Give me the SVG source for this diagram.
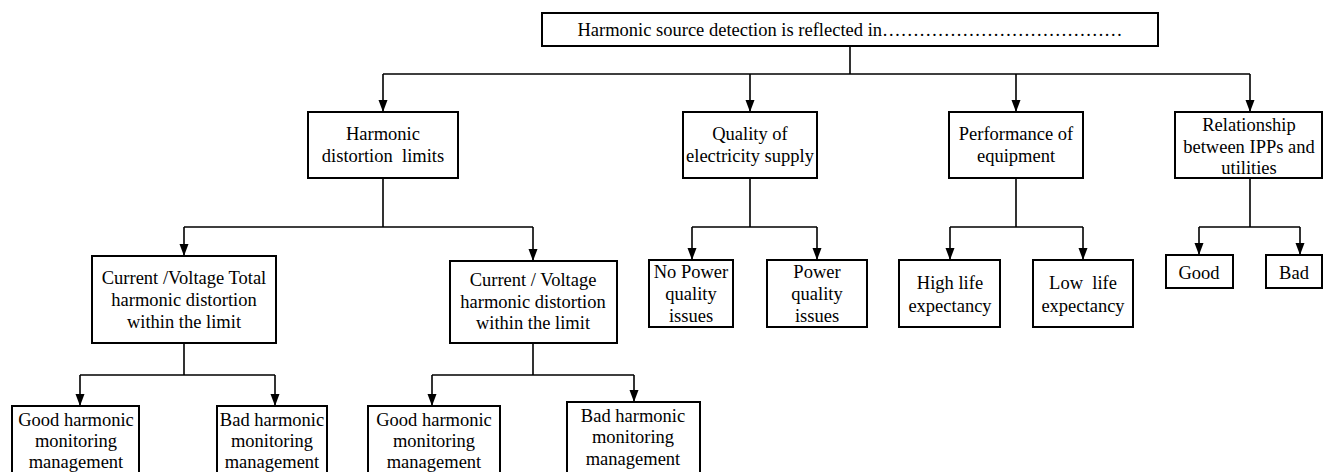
<svg xmlns="http://www.w3.org/2000/svg" width="1324" height="472" viewBox="0 0 1324 472">
  <defs>
    <marker id="arrow" markerUnits="userSpaceOnUse" markerWidth="13" markerHeight="10" refX="12" refY="4.5" orient="auto">
      <path d="M0,0 L12,4.5 L0,9 z" fill="#000"/>
    </marker>
    <style>
      .box { fill: #fff; stroke: #000; stroke-width: 2; }
      .lbl { font-family: "Liberation Serif", "Times New Roman", serif; font-size: 18.5px; fill: #000; text-anchor: middle; }
      .wire { fill: none; stroke: #000; stroke-width: 1.6; }
      .arr { fill: none; stroke: #000; stroke-width: 1.6; marker-end: url(#arrow); }
    </style>
  </defs>
  <rect width="1324" height="472" fill="#fff"/>

  <!-- connectors -->
  <g id="connectors">
    <path class="wire" d="M850,46 V74 M383,74 H1250"/>
    <path class="arr" d="M383,74 V112"/>
    <path class="arr" d="M750,74 V112"/>
    <path class="arr" d="M1016,74 V112"/>
    <path class="arr" d="M1250,74 V112"/>

    <path class="wire" d="M383,178 V227 M184,227 H533"/>
    <path class="arr" d="M184,227 V256"/>
    <path class="arr" d="M533,227 V261"/>

    <path class="wire" d="M750,178 V227 M692,227 H817"/>
    <path class="arr" d="M692,227 V260"/>
    <path class="arr" d="M817,227 V260"/>

    <path class="wire" d="M1016,178 V227 M950,227 H1083"/>
    <path class="arr" d="M950,227 V260"/>
    <path class="arr" d="M1083,227 V260"/>

    <path class="wire" d="M1250,178 V227 M1199,227 H1300"/>
    <path class="arr" d="M1199,227 V255"/>
    <path class="arr" d="M1300,227 V255"/>

    <path class="wire" d="M184,343 V375 M80,375 H275"/>
    <path class="arr" d="M80,375 V406"/>
    <path class="arr" d="M275,375 V406"/>

    <path class="wire" d="M533,343 V375 M432,375 H634"/>
    <path class="arr" d="M432,375 V406"/>
    <path class="arr" d="M634,375 V402"/>
  </g>

  <!-- root -->
  <g id="root">
    <rect class="box" x="542" y="13" width="616" height="33"/>
    <text class="lbl" x="850" y="36">Harmonic source detection is reflected in…………………………………</text>
  </g>

  <!-- first level -->
  <g id="distortion-limits">
    <rect class="box" x="308" y="112" width="150" height="66"/>
    <text class="lbl" x="383" y="140">Harmonic</text>
    <text class="lbl" x="383" y="162" xml:space="preserve">distortion  limits</text>
  </g>
  <g id="supply-quality">
    <rect class="box" x="683" y="112" width="134" height="66"/>
    <text class="lbl" x="750" y="140">Quality of</text>
    <text class="lbl" x="750" y="162">electricity supply</text>
  </g>
  <g id="equipment-performance">
    <rect class="box" x="949" y="112" width="134" height="66"/>
    <text class="lbl" x="1016" y="140">Performance of</text>
    <text class="lbl" x="1016" y="162">equipment</text>
  </g>
  <g id="ipp-relationship">
    <rect class="box" x="1175" y="112" width="147" height="66"/>
    <text class="lbl" x="1249" y="131">Relationship</text>
    <text class="lbl" x="1249" y="153">between IPPs and</text>
    <text class="lbl" x="1249" y="174">utilities</text>
  </g>

  <!-- second level -->
  <g id="thd-within-limit">
    <rect class="box" x="92" y="256" width="184" height="87"/>
    <text class="lbl" x="184" y="284">Current /Voltage Total</text>
    <text class="lbl" x="184" y="306">harmonic distortion</text>
    <text class="lbl" x="184" y="328">within the limit</text>
  </g>
  <g id="hd-within-limit">
    <rect class="box" x="450" y="261" width="167" height="82"/>
    <text class="lbl" x="533" y="286">Current / Voltage</text>
    <text class="lbl" x="533" y="308">harmonic distortion</text>
    <text class="lbl" x="533" y="329">within the limit</text>
  </g>
  <g id="no-pq-issues">
    <rect class="box" x="649" y="260" width="84" height="67"/>
    <text class="lbl" x="691" y="278">No Power</text>
    <text class="lbl" x="691" y="300">quality</text>
    <text class="lbl" x="691" y="322">issues</text>
  </g>
  <g id="pq-issues">
    <rect class="box" x="767" y="260" width="100" height="67"/>
    <text class="lbl" x="817" y="278">Power</text>
    <text class="lbl" x="817" y="300">quality</text>
    <text class="lbl" x="817" y="322">issues</text>
  </g>
  <g id="high-life">
    <rect class="box" x="899" y="260" width="101" height="67"/>
    <text class="lbl" x="950" y="289">High life</text>
    <text class="lbl" x="950" y="312">expectancy</text>
  </g>
  <g id="low-life">
    <rect class="box" x="1033" y="260" width="100" height="67"/>
    <text class="lbl" x="1083" y="289" xml:space="preserve">Low  life</text>
    <text class="lbl" x="1083" y="312">expectancy</text>
  </g>
  <g id="good">
    <rect class="box" x="1166" y="255" width="67" height="33"/>
    <text class="lbl" x="1199" y="279">Good</text>
  </g>
  <g id="bad">
    <rect class="box" x="1266" y="255" width="56" height="33"/>
    <text class="lbl" x="1294" y="279">Bad</text>
  </g>

  <!-- third level (boxes run past the lower edge) -->
  <g id="good-mgmt-1">
    <rect class="box" x="12" y="406" width="127" height="80"/>
    <text class="lbl" x="76" y="426">Good harmonic</text>
    <text class="lbl" x="76" y="447">monitoring</text>
    <text class="lbl" x="76" y="468">management</text>
  </g>
  <g id="bad-mgmt-1">
    <rect class="box" x="217" y="406" width="110" height="80"/>
    <text class="lbl" x="272" y="426">Bad harmonic</text>
    <text class="lbl" x="272" y="447">monitoring</text>
    <text class="lbl" x="272" y="468">management</text>
  </g>
  <g id="good-mgmt-2">
    <rect class="box" x="368" y="406" width="132" height="80"/>
    <text class="lbl" x="434" y="426">Good harmonic</text>
    <text class="lbl" x="434" y="447">monitoring</text>
    <text class="lbl" x="434" y="468">management</text>
  </g>
  <g id="bad-mgmt-2">
    <rect class="box" x="567" y="402" width="133" height="84"/>
    <text class="lbl" x="633" y="422">Bad harmonic</text>
    <text class="lbl" x="633" y="443">monitoring</text>
    <text class="lbl" x="633" y="465">management</text>
  </g>
</svg>
